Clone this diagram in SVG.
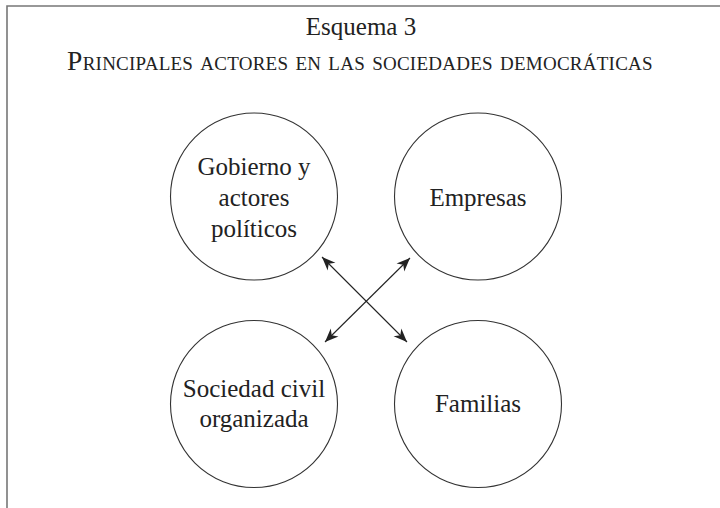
<svg xmlns="http://www.w3.org/2000/svg" width="720" height="508" viewBox="0 0 720 508">
<style>
.t{font-family:"Liberation Serif","Times New Roman",serif;fill:#222;text-anchor:middle}
.n{font-size:25px}
.c{fill:#fff;stroke:#333;stroke-width:1.1}
.a{stroke:#222;stroke-width:1.1;fill:none;marker-start:url(#ah);marker-end:url(#ah)}
</style>
<defs>
<marker id="ah" markerUnits="userSpaceOnUse" markerWidth="16" markerHeight="14" viewBox="-14 -7 16 14" refX="0" refY="0" orient="auto-start-reverse">
<path d="M0,0 L-13.5,-5.5 L-9.5,0 L-13.5,5.5 Z" fill="#222"/>
</marker>
</defs>
<rect width="720" height="508" fill="#fff"/>
<path d="M7,508 V6 H720" fill="none" stroke="#777" stroke-width="1.6"/>
<g id="title">
<text class="t" x="361" y="35" font-size="25">Esquema 3</text>
<text class="t" x="360" y="70" font-size="27.5" style="font-variant:small-caps;letter-spacing:0.25px">Principales actores en las sociedades democráticas</text>
</g>
<g id="connectors">
<line class="a" x1="322" y1="257" x2="407" y2="342"/>
<line class="a" x1="410" y1="258" x2="325" y2="342"/>
</g>
<g id="gobierno">
<circle class="c" cx="254" cy="196.5" r="83.5"/>
<text class="t n" x="254" y="175">Gobierno y</text>
<text class="t n" x="254" y="206">actores</text>
<text class="t n" x="254" y="237">políticos</text>
</g>
<g id="empresas">
<circle class="c" cx="478" cy="196.5" r="83.5"/>
<text class="t n" x="478" y="206">Empresas</text>
</g>
<g id="sociedad">
<circle class="c" cx="254" cy="404" r="83.5"/>
<text class="t n" x="254" y="397">Sociedad civil</text>
<text class="t n" x="254" y="427">organizada</text>
</g>
<g id="familias">
<circle class="c" cx="478" cy="404" r="83.5"/>
<text class="t n" x="478" y="412">Familias</text>
</g>
</svg>
